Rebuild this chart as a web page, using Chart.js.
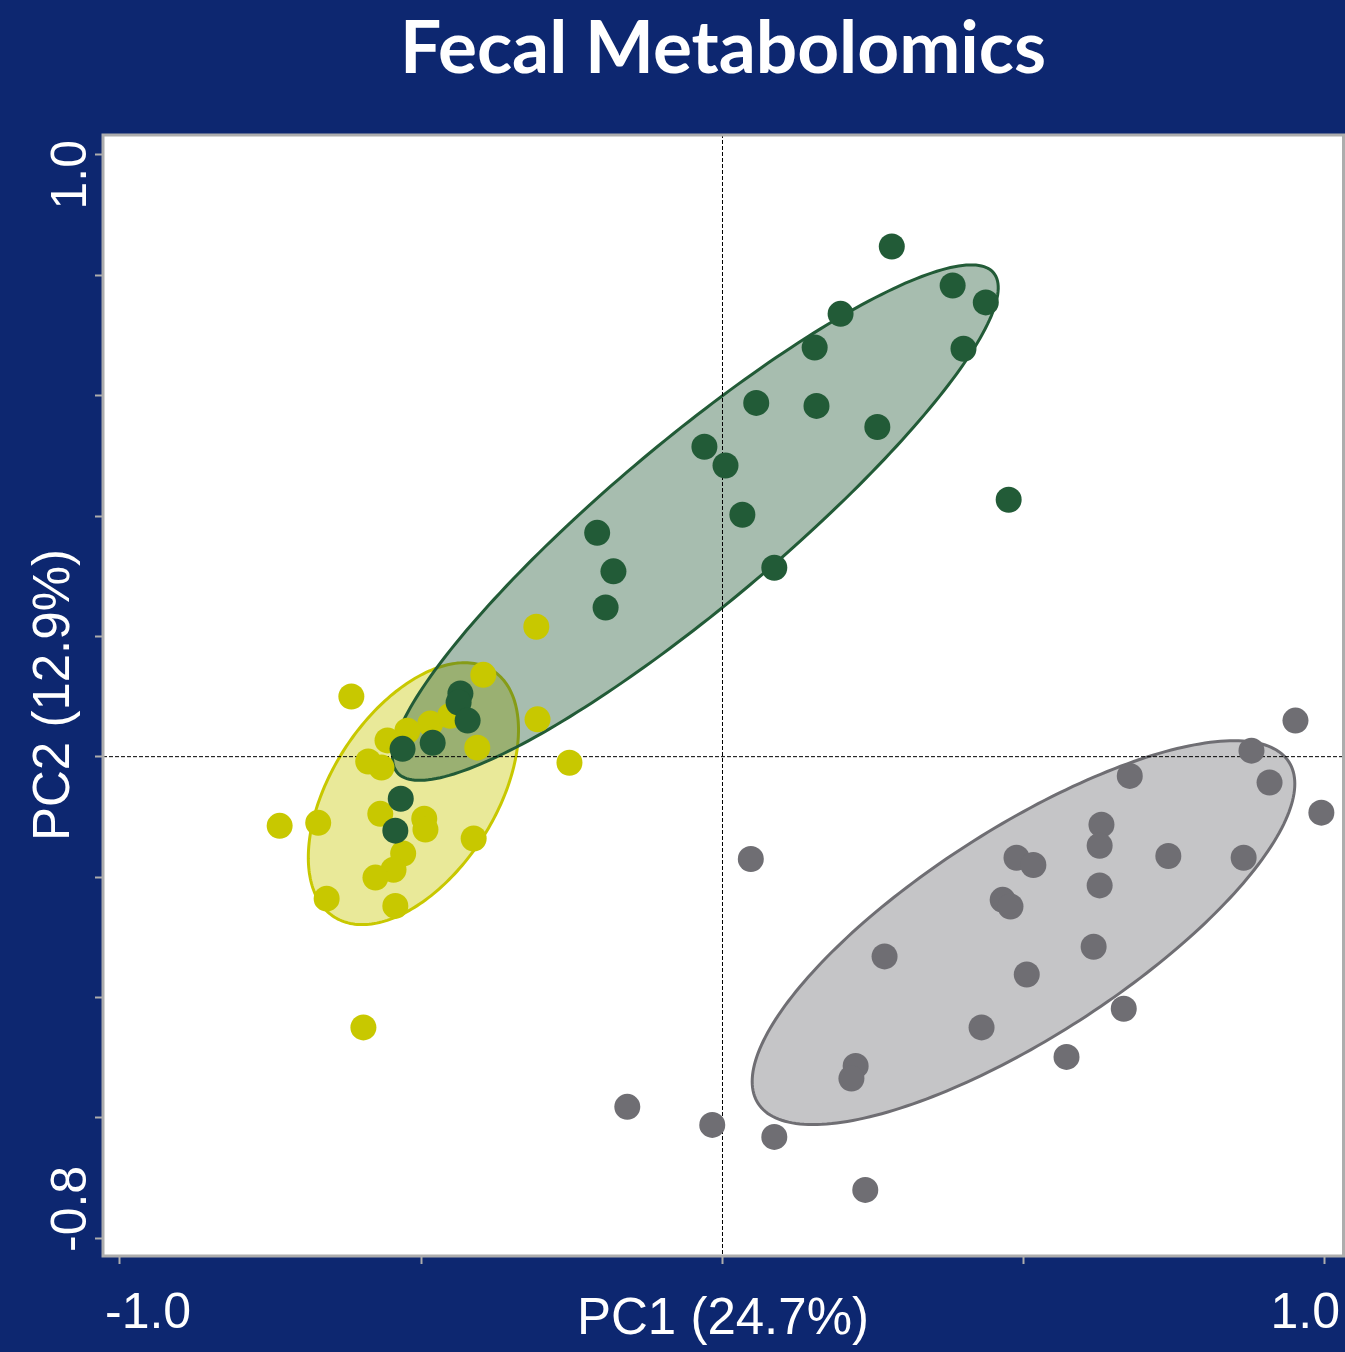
<!DOCTYPE html>
<html>
<head>
  <title>Fecal Metabolomics</title>
  <meta charset="utf-8">
  <script src="https://cdn.jsdelivr.net/npm/chart.js@4.4.0/dist/chart.umd.min.js"></script>
  <style>
    html, body { margin: 0; padding: 0; background: #0d2770; }
    #chart { display: block; }
  </style>
</head>
<body>
<canvas id="chart" width="1345" height="1352"></canvas>
<script>
  // PCA scores, [PC1, PC2]
  var greenScores = [
    [0.281, 0.848], [0.382, 0.783], [0.437, 0.755], [0.196, 0.736], [0.153, 0.680],
    [0.400, 0.678], [0.056, 0.588], [0.156, 0.583], [0.257, 0.548], [-0.030, 0.515],
    [0.005, 0.484], [0.475, 0.427], [0.033, 0.402], [-0.208, 0.372], [-0.181, 0.308],
    [-0.194, 0.248], [0.086, 0.314], [-0.435, 0.105], [-0.438, 0.090], [-0.423, 0.060],
    [-0.481, 0.023], [-0.531, 0.013], [-0.534, -0.070], [-0.543, -0.123]
  ];
  var yellowScores = [
    [-0.309, 0.216], [-0.397, 0.136], [-0.616, 0.100], [-0.485, 0.055], [-0.452, 0.068],
    [-0.523, 0.043], [-0.556, 0.027], [-0.307, 0.062], [-0.407, 0.015], [-0.254, -0.010],
    [-0.588, -0.008], [-0.566, -0.018], [-0.735, -0.115], [-0.671, -0.110], [-0.568, -0.095],
    [-0.495, -0.103], [-0.493, -0.121], [-0.413, -0.136], [-0.530, -0.161], [-0.546, -0.188],
    [-0.576, -0.201], [-0.657, -0.236], [-0.543, -0.248], [-0.596, -0.450]
  ];
  var greyScores = [
    [0.951, 0.060], [0.878, 0.010], [0.908, -0.043], [0.994, -0.093], [0.676, -0.032],
    [0.629, -0.113], [0.626, -0.148], [0.740, -0.165], [0.865, -0.168], [0.488, -0.168],
    [0.516, -0.180], [0.626, -0.214], [0.465, -0.238], [0.478, -0.249], [0.047, -0.170],
    [0.269, -0.332], [0.616, -0.316], [0.505, -0.362], [0.666, -0.419], [0.430, -0.450],
    [0.221, -0.514], [0.214, -0.535], [0.571, -0.499], [-0.158, -0.582], [-0.017, -0.612],
    [0.086, -0.632], [0.237, -0.720]
  ];

  // group ellipses: [centre PC1, centre PC2, semi-major, semi-minor, angle deg]
  var greenEllipse = [-0.045, 0.389, 0.646, 0.1375, 40];
  var yellowEllipse = [-0.513, -0.0615, 0.2434, 0.1362, 57.3];
  var greyEllipse = [0.4996, -0.2925, 0.524, 0.173, 32.8];

  var xTicks = [-1, -0.5, 0, 0.5, 1];
  var yTicks = [-0.8, -0.6, -0.4, -0.2, 0, 0.2, 0.4, 0.6, 0.8, 1.0];
  var xTickLabels = ['-1.0', '1.0'];
  var yTickLabels = ['-0.8', '1.0'];

  var NAVY = '#0d2770';
  var GREEN = '#225b37', YELLOW = '#c8c800', GREY = '#6f6e73';
  var AXIS_GREY = '#adadad';
  var LABEL_FONT = '"Liberation Sans", Arial, sans-serif';

  function toPoints(rows) {
    return rows.map(function(r) { return {x: r[0], y: r[1]}; });
  }

  var backdrop = {
    id: 'backdrop',
    beforeDraw: function(chart) {
      var ctx = chart.ctx, a = chart.chartArea;
      ctx.save();
      ctx.fillStyle = NAVY;
      ctx.fillRect(0, 0, chart.width, chart.height);
      ctx.fillStyle = '#ffffff';
      ctx.fillRect(a.left, a.top, a.right - a.left, a.bottom - a.top);
      ctx.restore();
    }
  };

  // ellipses under the points, then the dashed zero lines
  var ellipses = {
    id: 'ellipses',
    beforeDatasetsDraw: function(chart) {
      var ctx = chart.ctx, a = chart.chartArea;
      var xs = chart.scales.x, ys = chart.scales.y;
      var list = [
        {e: yellowEllipse, line: YELLOW, fill: 'rgba(200,200,0,0.4)'},
        {e: greenEllipse, line: GREEN, fill: 'rgba(34,91,55,0.4)'},
        {e: greyEllipse, line: GREY, fill: 'rgba(111,110,115,0.4)'}
      ];
      ctx.save();
      ctx.beginPath();
      ctx.rect(a.left, a.top, a.right - a.left, a.bottom - a.top);
      ctx.clip();
      list.forEach(function(item) {
        var e = item.e, th = e[4] * Math.PI / 180;
        ctx.beginPath();
        for (var i = 0; i <= 240; i++) {
          var t = i / 240 * 2 * Math.PI;
          var u = e[2] * Math.cos(t), v = e[3] * Math.sin(t);
          var px = xs.getPixelForValue(e[0] + u * Math.cos(th) - v * Math.sin(th));
          var py = ys.getPixelForValue(e[1] + u * Math.sin(th) + v * Math.cos(th));
          if (i === 0) ctx.moveTo(px, py); else ctx.lineTo(px, py);
        }
        ctx.closePath();
        ctx.fillStyle = item.fill;
        ctx.fill();
        ctx.lineWidth = 3;
        ctx.strokeStyle = item.line;
        ctx.stroke();
      });

      var x0 = xs.getPixelForValue(0), y0 = ys.getPixelForValue(0);
      ctx.beginPath();
      ctx.setLineDash([4, 2]);
      ctx.lineWidth = 1;
      ctx.strokeStyle = '#000000';
      ctx.moveTo(x0, a.top);
      ctx.lineTo(x0, a.bottom);
      ctx.moveTo(a.left, y0);
      ctx.lineTo(a.right, y0);
      ctx.stroke();
      ctx.restore();
    }
  };

  // frame and the two end labels on each axis
  var frame = {
    id: 'frame',
    afterDraw: function(chart) {
      var ctx = chart.ctx, a = chart.chartArea;
      ctx.save();
      ctx.lineWidth = 3;
      ctx.strokeStyle = AXIS_GREY;
      ctx.strokeRect(a.left, a.top + 1, a.right - a.left + 0.5, a.bottom - a.top - 1);

      ctx.fillStyle = '#ffffff';
      ctx.font = '50px ' + LABEL_FONT;
      ctx.textBaseline = 'alphabetic';
      ctx.textAlign = 'left';
      ctx.fillText(xTickLabels[0], a.left + 2, a.bottom + 72);
      ctx.textAlign = 'right';
      ctx.fillText(xTickLabels[1], a.right - 3, a.bottom + 72);

      ctx.translate(a.left - 17, 0);
      ctx.rotate(-Math.PI / 2);
      ctx.textAlign = 'left';
      ctx.fillText(yTickLabels[0], -(a.bottom - 4), 0);
      ctx.textAlign = 'right';
      ctx.fillText(yTickLabels[1], -(a.top + 6), 0);
      ctx.restore();
    }
  };

  var tickGrid = {
    drawOnChartArea: false,
    drawTicks: true,
    tickLength: 8,
    tickWidth: 2,
    tickColor: AXIS_GREY,
    color: AXIS_GREY
  };

  new Chart(document.getElementById('chart'), {
    type: 'scatter',
    data: {
      datasets: [
        {label: 'green', data: toPoints(greenScores), backgroundColor: GREEN, pointRadius: 13, borderWidth: 0},
        {label: 'yellow', data: toPoints(yellowScores), backgroundColor: YELLOW, pointRadius: 13, borderWidth: 0},
        {label: 'grey', data: toPoints(greyScores), backgroundColor: GREY, pointRadius: 13, borderWidth: 0}
      ]
    },
    options: {
      responsive: false,
      animation: false,
      events: [],
      devicePixelRatio: 1,
      layout: { autoPadding: false, padding: {left: 0, right: 2, top: 0, bottom: 0} },
      scales: {
        x: {
          type: 'linear',
          min: -1.0282,
          max: 1.0299,
          afterBuildTicks: function(s) { s.ticks = xTicks.map(function(v) { return {value: v}; }); },
          afterFit: function(s) { s.height = 96; },
          ticks: { display: false },
          grid: tickGrid,
          border: { display: false },
          title: {
            display: true,
            text: 'PC1 (24.7%)',
            color: '#ffffff',
            font: { family: LABEL_FONT, size: 51 },
            padding: { top: 0, bottom: 1 }
          }
        },
        y: {
          type: 'linear',
          min: -0.8299,
          max: 1.0349,
          afterBuildTicks: function(s) { s.ticks = yTicks.map(function(v) { return {value: v}; }); },
          afterFit: function(s) { s.width = 103; },
          ticks: { display: false },
          grid: tickGrid,
          border: { display: false },
          title: {
            display: true,
            text: 'PC2 (12.9%)',
            color: '#ffffff',
            font: { family: LABEL_FONT, size: 51 },
            padding: { top: 24, bottom: 0 }
          }
        }
      },
      plugins: {
        legend: { display: false },
        tooltip: { enabled: false },
        title: {
          display: true,
          text: 'Fecal Metabolomics',
          color: '#ffffff',
          fullSize: false,
          font: { family: 'Lato', weight: 'bold', size: 73, lineHeight: 1 },
          padding: { top: 13, bottom: 48 }
        }
      }
    },
    plugins: [backdrop, ellipses, frame]
  });
</script>
</body>
</html>
